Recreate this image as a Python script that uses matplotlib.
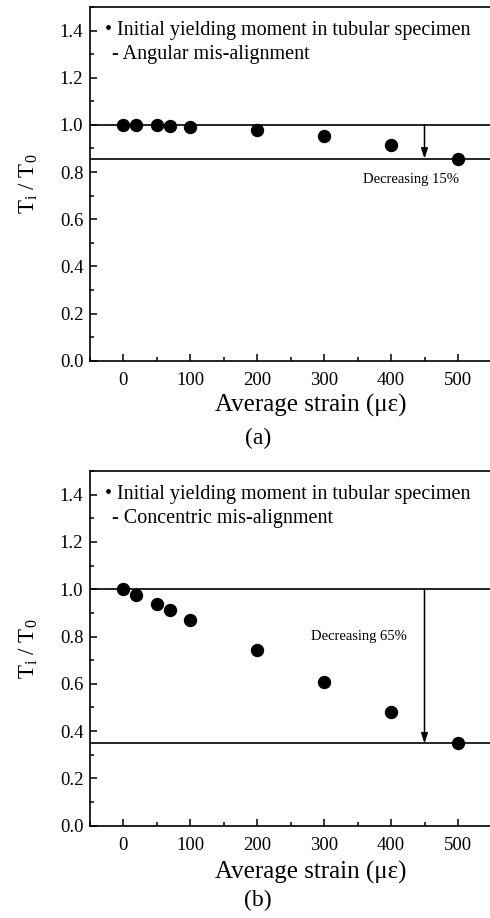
import matplotlib
matplotlib.use("Agg")
import matplotlib.pyplot as plt
from matplotlib.ticker import MultipleLocator

plt.rcParams['font.family'] = ['Liberation Serif', 'DejaVu Serif']
plt.rcParams['mathtext.fontset'] = 'custom'
plt.rcParams['mathtext.rm'] = 'Liberation Serif'
plt.rcParams['mathtext.it'] = 'Liberation Serif'

# Average strain (micro-strain) and normalised initial yielding moment
strain = [0, 20, 50, 70, 100, 200, 300, 400, 500]
ratio_angular = [1.0, 1.0, 0.998, 0.995, 0.99, 0.98, 0.955, 0.915, 0.857]
ratio_concentric = [1.0, 0.976, 0.938, 0.913, 0.868, 0.741, 0.607, 0.479, 0.348]

panels = [
    dict(y=ratio_angular, case="- Angular mis-alignment", drop="Decreasing 15%",
         floor=0.857, text_xy=(430, 0.768), tag="(a)"),
    dict(y=ratio_concentric, case="- Concentric mis-alignment", drop="Decreasing 65%",
         floor=0.348, text_xy=(352, 0.80), tag="(b)"),
]

W, H = 490, 918
fig = plt.figure(figsize=(W / 100, H / 100), dpi=100)
# axes boxes in pixels: left, top, right, bottom
boxes = [(89.5, 7.0, 491.5, 360.7), (89.5, 471.0, 491.5, 825.7)]
xlabel_y = [405, 872]
tag_y = [438, 900]

for box, p, xly, ty in zip(boxes, panels, xlabel_y, tag_y):
    l, t, r, b = box
    ax = fig.add_axes([l / W, 1 - b / H, (r - l) / W, (b - t) / H])
    ax.set_xlim(-50, 550)
    ax.set_ylim(0, 1.5)
    ax.axhline(1.0, color='black', lw=1.2, zorder=1)
    ax.axhline(p['floor'], color='black', lw=1.2, zorder=1)
    ax.plot(strain, p['y'], 'o', color='black', ms=8.6, zorder=3)
    ax.annotate('', xy=(450, p['floor']), xytext=(450, 1.0),
                arrowprops=dict(arrowstyle='-|>,head_length=0.6,head_width=0.2',
                                color='black', lw=1.1, shrinkA=0, shrinkB=0))
    ax.text(p['text_xy'][0], p['text_xy'][1], p['drop'], fontsize=10.5,
            ha='center', va='center')
    ax.text(-27, 1.40, "\u2022 Initial yielding moment in tubular specimen",
            fontsize=14.5, ha='left', va='center')
    ax.text(-16, 1.30, p['case'], fontsize=14.5, ha='left', va='center')

    ax.xaxis.set_major_locator(MultipleLocator(100))
    ax.xaxis.set_minor_locator(MultipleLocator(50))
    ax.yaxis.set_major_locator(MultipleLocator(0.2))
    ax.yaxis.set_minor_locator(MultipleLocator(0.1))
    ax.tick_params(which='both', direction='in', labelsize=13.5, top=False, right=False)
    ax.tick_params(which='major', length=5, width=1.1)
    ax.tick_params(which='minor', length=3, width=1.1)
    ax.tick_params(axis='x', which='major', pad=8)
    ax.tick_params(axis='y', which='major', pad=4.5)
    ax.yaxis.set_major_formatter(plt.FuncFormatter(lambda v, _: f"{v:.1f}"))
    for s in ax.spines.values():
        s.set_linewidth(1.2)

    ax.set_ylabel("T$_{\\mathrm{i}}$ / T$_{\\mathrm{0}}$", fontsize=16.5)
    ax.yaxis.set_label_coords(-(l - 40) / (r - l), 0.5)
    fig.text(311 / W, 1 - xly / H, "Average strain (\u03bc\u03b5)", fontsize=18,
             ha='center', va='center')
    fig.text(258 / W, 1 - ty / H, p['tag'], fontsize=17, ha='center', va='center')

fig.savefig("out.png", dpi=100)
